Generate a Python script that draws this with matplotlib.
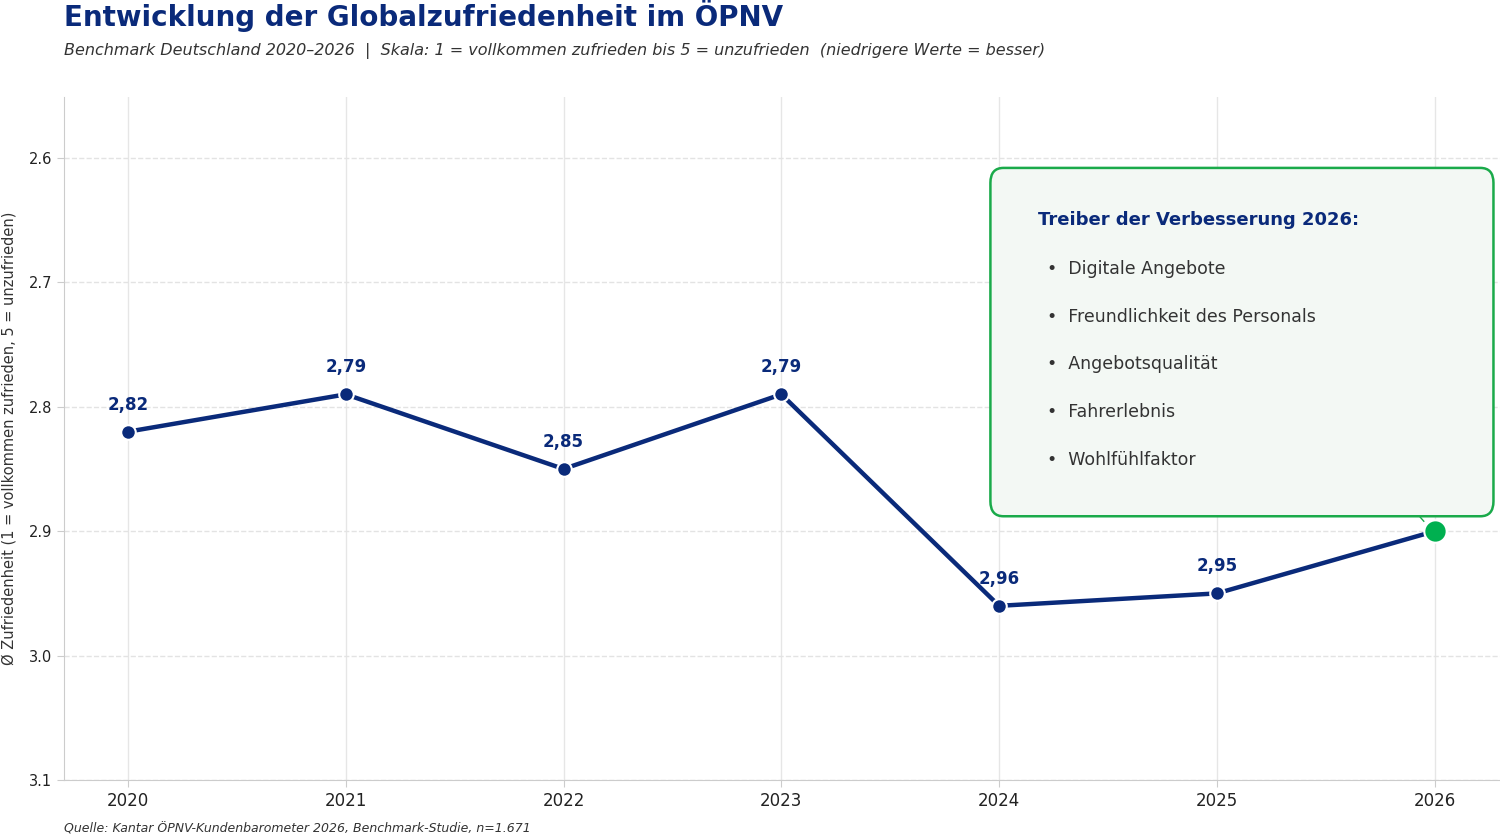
import matplotlib
matplotlib.use("Agg")
import matplotlib.pyplot as plt
from matplotlib.patches import FancyBboxPatch

plt.rcParams['font.family'] = ['DejaVu Sans']

years = [2020, 2021, 2022, 2023, 2024, 2025, 2026]
values = [2.82, 2.79, 2.85, 2.79, 2.96, 2.95, 2.90]
labels = ["2,82", "2,79", "2,85", "2,79", "2,96", "2,95"]
drivers = ["Digitale Angebote", "Freundlichkeit des Personals", "Angebotsqualität",
           "Fahrerlebnis", "Wohlfühlfaktor"]

navy = "#0a2a7a"
green = "#00b050"

fig = plt.figure(figsize=(15, 8.36), dpi=100)
ax = fig.add_axes([64/1500, 56/836, 1436/1500, 683/836])

ax.plot(years, values, color=navy, lw=3.2, zorder=3)
ax.scatter(years[:-1], values[:-1], s=110, color=navy, edgecolor="white", lw=1.5, zorder=4)
ax.scatter(years[-1:], values[-1:], s=260, color=green, edgecolor="white", lw=1.5, zorder=4)
for x, v, t in zip(years, values, labels):
    ax.annotate(t, (x, v), xytext=(0, 13), textcoords="offset points", ha="center",
                va="bottom", fontsize=12, fontweight="bold", color=navy)

ax.set_xlim(2019.706, 2026.3)
ax.set_ylim(3.1, 2.551)
ax.set_xticks(years)
ax.set_yticks([2.6, 2.7, 2.8, 2.9, 3.0, 3.1])
ax.set_yticklabels(["2.6", "2.7", "2.8", "2.9", "3.0", "3.1"])
ax.tick_params(axis="x", labelsize=12, colors="#222222", length=5, color="#cccccc")
ax.tick_params(axis="y", labelsize=10.5, colors="#222222", length=5, color="#cccccc")
ax.grid(axis="y", ls="--", color="#e3e3e3", lw=1)
ax.grid(axis="x", ls="-", color="#e6e6e6", lw=1)
ax.set_axisbelow(True)
for s in ["top", "right"]:
    ax.spines[s].set_visible(False)
for s in ["left", "bottom"]:
    ax.spines[s].set_color("#cccccc")
ax.set_ylabel("Ø Zufriedenheit (1 = vollkommen zufrieden, 5 = unzufrieden)", fontsize=10.5, color="#333333")
ax.yaxis.set_label_coords(-0.033, 0.5)

# callout box
box = FancyBboxPatch((2023.96, 2.608), 2026.27 - 2023.96, 2.888 - 2.608,
                     boxstyle="round,pad=0,rounding_size=0.06", mutation_aspect=0.2,
                     facecolor="#f3f8f4", edgecolor="#1aaa4a", lw=1.8, zorder=5)
ax.add_patch(box)
ax.plot([2025.93, 2025.95], [2.888, 2.892], color="#1aaa4a", lw=1, zorder=5)
ax.text(2024.18, 2.65, "Treiber der Verbesserung 2026:", fontsize=13, fontweight="bold",
        color=navy, va="center", zorder=6)
for i, d in enumerate(drivers):
    ax.text(2024.22, 2.689 + i * 0.0385, "•  " + d, fontsize=12.5, color="#333333",
            va="center", zorder=6)

fig.text(64/1500, 1 - 16/836, "Entwicklung der Globalzufriedenheit im ÖPNV", fontsize=20,
         fontweight="bold", color=navy, va="center")
fig.text(64/1500, 1 - 51/836, "Benchmark Deutschland 2020–2026  |  Skala: 1 = vollkommen zufrieden bis 5 = unzufrieden  (niedrigere Werte = besser)",
         fontsize=11.5, style="italic", color="#333333", va="center")
fig.text(64/1500, 1 - 829/836, "Quelle: Kantar ÖPNV-Kundenbarometer 2026, Benchmark-Studie, n=1.671",
         fontsize=9, style="italic", color="#333333", va="center")

fig.savefig("out.png", dpi=100)
